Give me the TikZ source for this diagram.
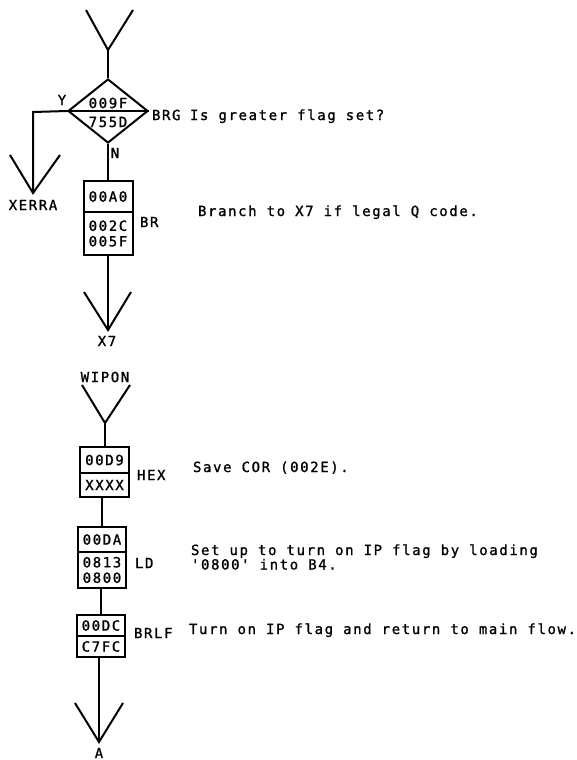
\documentclass[tikz,border=0pt]{standalone}
\usepackage{fontspec}
\newfontfamily\mono[LetterSpace=11.5,FakeBold=1.2]{DejaVu Sans Mono}
\usetikzlibrary{shapes.geometric}
\begin{document}
\begin{tikzpicture}[x=1pt,y=-1pt,line width=2pt,
  lbl/.style={font=\mono\fontsize{14}{15}\selectfont,inner sep=0pt},
  note/.style={lbl,anchor=base west},
  cell/.style={draw,rectangle,minimum width=49pt,inner sep=0pt,align=center,
    font=\mono\fontsize{14}{15.5}\selectfont},
  dec/.style={draw,diamond,minimum width=80pt,minimum height=64pt,inner sep=0pt}]
\useasboundingbox (0,0) rectangle (577,760);
% ---------- top part ----------
\coordinate (v1) at (108,50);
\coordinate (v1l) at (86,10);
\coordinate (v1r) at (133,10);
\draw (v1l) -- (v1) -- (v1r);
\node[dec] (d) at (108,111) {};
\draw (v1) -- (d.north);
\draw (d.west) -- (d.east);
\node[lbl] (d1) at (108,103) {009F};
\node[lbl] (d2) at (108,122) {755D};
\node[lbl] (y) at (62,100) {Y};
\node[lbl,anchor=west] (brg) at (151,115) {BRG};
\node[note] (c1) at (189,120) {Is greater flag set?};
\coordinate (cx) at (33,112);
\coordinate (xv) at (33,193);
\coordinate (xvl) at (10,155);
\coordinate (xvr) at (60,155);
\draw (d.west) -- (cx) -- (xv);
\draw (xvl) -- (xv) -- (xvr);
\node[lbl] (xerra) at (33,205) {XERRA};
\node[lbl] (n) at (115,153) {N};
\node[cell,minimum height=31pt] (b1a) at (108,196.5) {00A0};
\node[cell,minimum height=43pt] (b1b) at (108,233.5) {002C\\005F};
\draw (d.south) -- (b1a.north);
\node[lbl,anchor=west] (br) at (139,222) {BR};
\node[note] (c2) at (197,216) {Branch to X7 if legal Q code.};
\coordinate (x7v) at (108,330);
\coordinate (x7l) at (84,292);
\coordinate (x7r) at (131,292);
\draw (b1b.south) -- (x7v);
\draw (x7l) -- (x7v) -- (x7r);
\node[lbl] (x7) at (107,341) {X7};
% ---------- WIPON ----------
\node[lbl] (wipon) at (105,377) {WIPON};
\coordinate (wv) at (105,423);
\coordinate (wvl) at (82,385);
\coordinate (wvr) at (130,385);
\draw (wvl) -- (wv) -- (wvr);
\node[cell,minimum height=26pt] (b2a) at (104.5,460) {00D9};
\node[cell,minimum height=24pt] (b2b) at (104.5,485) {XXXX};
\draw (wv) -- (wv |- b2a.north);
\node[lbl,anchor=west] (hex) at (136,475) {HEX};
\node[note] (c3) at (192,472) {Save COR (002E).};
\node[cell,minimum height=25pt,minimum width=48pt] (b3a) at (102,539.5) {00DA};
\node[cell,minimum height=36pt,minimum width=48pt] (b3b) at (102,570) {0813\\0800};
\draw (b2b.south -| b3a.north) -- (b3a.north);
\node[lbl,anchor=west] (ld) at (134,563) {LD};
\node[note] (c4a) at (190,555) {Set up to turn on IP flag by loading};
\node[note] (c4b) at (190,569.5) {'0800' into B4.};
\node[cell,minimum height=21pt,minimum width=48pt] (b4a) at (101,625.5) {00DC};
\node[cell,minimum height=21pt,minimum width=48pt] (b4b) at (101,646.5) {C7FC};
\draw (b3b.south -| b4a.north) -- (b4a.north);
\node[lbl,anchor=west] (brlf) at (133,633) {BRLF};
\node[note] (c5) at (188,634) {Turn on IP flag and return to main flow.};
\coordinate (av) at (99,742);
\coordinate (avl) at (75,703);
\coordinate (avr) at (123,703);
\draw (b4b.south -| av) -- (av);
\draw (avl) -- (av) -- (avr);
\node[lbl] (a) at (99,753) {A};
\end{tikzpicture}
\end{document}
